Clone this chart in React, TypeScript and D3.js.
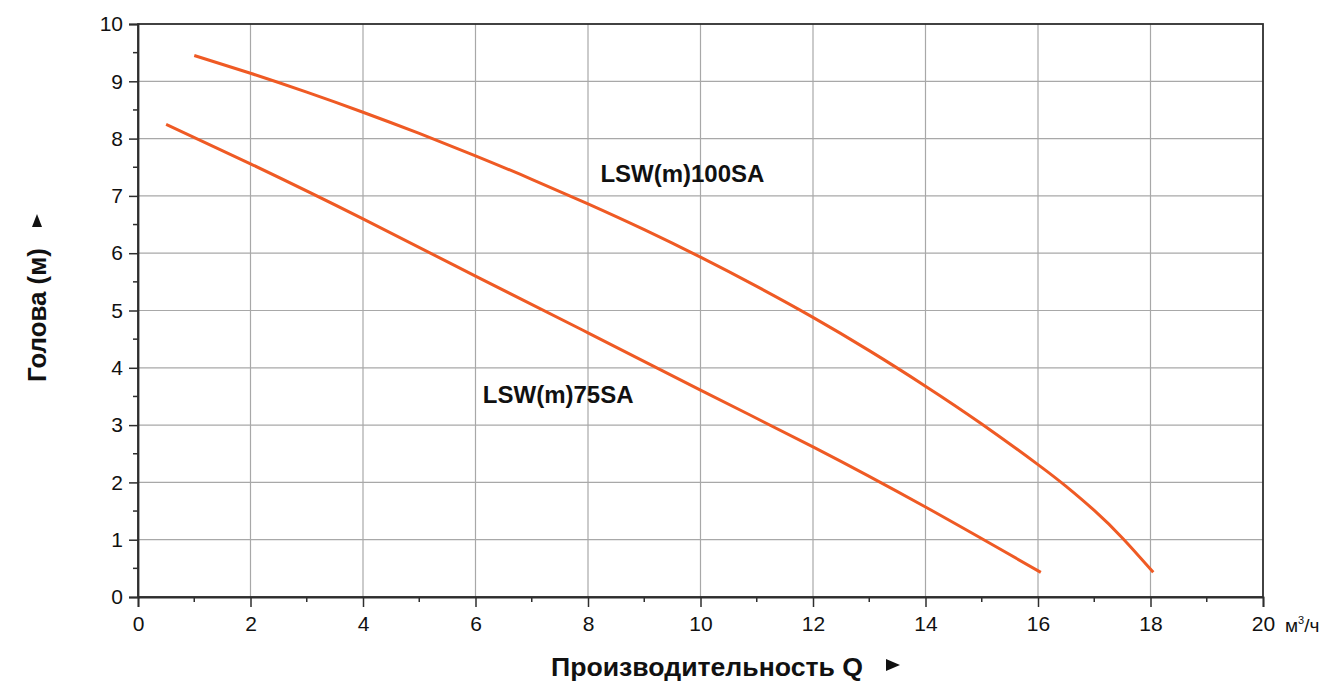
import React, { useEffect, useRef } from "react";
import * as d3 from "d3";

// data
const flowLarge = [1.0, 2, 3, 4, 5, 6, 7, 8, 9, 10, 11, 12, 13, 14, 15, 16, 16.5, 17, 17.5, 18.05];
const headLarge = [9.45, 9.14, 8.81, 8.46, 8.09, 7.7, 7.29, 6.86, 6.41, 5.93, 5.42, 4.88, 4.3, 3.68, 3.02, 2.31, 1.93, 1.51, 1.03, 0.43];
const flowSmall = [0.5, 2, 4, 6, 8, 10, 12, 14, 16.05];
const headSmall = [8.25, 7.56, 6.6, 5.6, 4.61, 3.61, 2.62, 1.57, 0.43];
const xTicks = [0, 2, 4, 6, 8, 10, 12, 14, 16, 18, 20];
const yTicks = [0, 1, 2, 3, 4, 5, 6, 7, 8, 9, 10];
const xMinor = [1, 3, 5, 7, 9, 11, 13, 15, 17, 19];
const yMinor = [0.5, 1.5, 2.5, 3.5, 4.5, 5.5, 6.5, 7.5, 8.5, 9.5];

const W = 1326;
const H = 685;
const FONT = "'Liberation Sans', Arial, sans-serif";
const CURVE = "#ef5a24";
const INK = "#111";

const App = () => {
  const ref = useRef<SVGSVGElement | null>(null);

  useEffect(() => {
    const svg = d3.select(ref.current);
    svg.selectAll("*").remove();

    const x = d3.scaleLinear().domain([0, 20]).range([138, 1263]);
    const y = d3.scaleLinear().domain([0, 10]).range([597, 24]);

    svg.append("rect").attr("width", W).attr("height", H).attr("fill", "#fff");

    // grid
    const grid = svg.append("g");
    grid
      .selectAll("line.gx")
      .data(xTicks.slice(1, -1))
      .enter()
      .append("line")
      .attr("x1", (d) => x(d))
      .attr("x2", (d) => x(d))
      .attr("y1", y(0))
      .attr("y2", y(10))
      .attr("stroke", "#a8a8a8")
      .attr("stroke-width", 1.2);
    grid
      .selectAll("line.gy")
      .data(yTicks.slice(1, -1))
      .enter()
      .append("line")
      .attr("x1", x(0))
      .attr("x2", x(20))
      .attr("y1", (d) => y(d))
      .attr("y2", (d) => y(d))
      .attr("stroke", "#a8a8a8")
      .attr("stroke-width", 1.2);

    // frame
    svg
      .append("rect")
      .attr("x", x(0))
      .attr("y", y(10))
      .attr("width", x(20) - x(0))
      .attr("height", y(0) - y(10))
      .attr("fill", "none")
      .attr("stroke", "#2e2e2e")
      .attr("stroke-width", 1.8);

    // axes
    const xAxis = svg
      .append("g")
      .attr("transform", `translate(0,${y(0)})`)
      .call(d3.axisBottom(x).tickValues(xTicks).tickSize(10).tickPadding(9).tickFormat(d3.format("d")));
    const yAxis = svg
      .append("g")
      .attr("transform", `translate(${x(0)},0)`)
      .call(d3.axisLeft(y).tickValues(yTicks).tickSize(9).tickPadding(6).tickFormat(d3.format("d")));
    [xAxis, yAxis].forEach((a) => {
      a.attr("font-size", 21).attr("font-family", FONT);
      a.select(".domain").attr("stroke", "#2e2e2e").attr("stroke-width", 1.8);
      a.selectAll(".tick line").attr("stroke", "#2e2e2e").attr("stroke-width", 1.5);
      a.selectAll(".tick text").attr("fill", INK);
    });

    // minor ticks
    svg
      .append("g")
      .selectAll("line")
      .data(xMinor)
      .enter()
      .append("line")
      .attr("x1", (d) => x(d))
      .attr("x2", (d) => x(d))
      .attr("y1", y(0))
      .attr("y2", y(0) + 5)
      .attr("stroke", "#2e2e2e")
      .attr("stroke-width", 1.5);
    svg
      .append("g")
      .selectAll("line")
      .data(yMinor)
      .enter()
      .append("line")
      .attr("x1", x(0) - 5)
      .attr("x2", x(0))
      .attr("y1", (d) => y(d))
      .attr("y2", (d) => y(d))
      .attr("stroke", "#2e2e2e")
      .attr("stroke-width", 1.5);

    // unit next to last x tick
    const unit = svg
      .append("text")
      .attr("x", x(20) + 22)
      .attr("y", y(0) + 35)
      .attr("font-family", FONT)
      .attr("font-size", 19)
      .attr("fill", INK);
    unit.append("tspan").text("м");
    unit.append("tspan").attr("dy", -8).attr("font-size", 11).text("3");
    unit.append("tspan").attr("dy", 8).text("/ч");

    // curves
    const line = d3
      .line<[number, number]>()
      .x((d) => x(d[0]))
      .y((d) => y(d[1]))
      .curve(d3.curveNatural);
    const series: [number[], number[]][] = [
      [flowLarge, headLarge],
      [flowSmall, headSmall],
    ];
    series.forEach(([fx, hy]) => {
      svg
        .append("path")
        .datum(fx.map((v, i) => [v, hy[i]] as [number, number]))
        .attr("fill", "none")
        .attr("stroke", CURVE)
        .attr("stroke-width", 3)
        .attr("d", line);
    });

    // curve labels
    svg
      .append("text")
      .attr("x", x(8.22))
      .attr("y", y(7.24))
      .attr("font-family", FONT)
      .attr("font-weight", "bold")
      .attr("font-size", 24)
      .attr("fill", INK)
      .text("LSW(m)100SA");
    svg
      .append("text")
      .attr("x", x(6.13))
      .attr("y", y(3.39))
      .attr("font-family", FONT)
      .attr("font-weight", "bold")
      .attr("font-size", 24)
      .attr("fill", INK)
      .text("LSW(m)75SA");

    // axis titles
    svg
      .append("text")
      .attr("x", 551)
      .attr("y", 676)
      .attr("font-family", FONT)
      .attr("font-weight", "bold")
      .attr("font-size", 25)
      .attr("textLength", 312)
      .attr("lengthAdjust", "spacingAndGlyphs")
      .attr("fill", INK)
      .text("Производительность Q");
    svg
      .append("path")
      .attr("d", "M886,659 L900,665 L886,671 Z")
      .attr("fill", INK);
    svg
      .append("text")
      .attr("transform", `translate(46,382) rotate(-90)`)
      .attr("font-family", FONT)
      .attr("font-weight", "bold")
      .attr("font-size", 25)
      .attr("textLength", 134)
      .attr("lengthAdjust", "spacingAndGlyphs")
      .attr("fill", INK)
      .text("Голова (м)");
    svg
      .append("path")
      .attr("d", "M32,227 L37,214 L42,227 Z")
      .attr("fill", INK);
  }, []);

  return (
    <div style={{ position: "absolute", left: 0, top: 0 }}>
      <svg ref={ref} width={W} height={H} style={{ display: "block" }} />
    </div>
  );
};

export default App;
